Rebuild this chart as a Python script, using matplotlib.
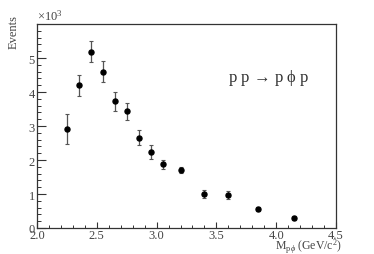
#!/usr/bin/env python3
"""p p -> p phi p : M(p phi) spectrum, ROOT-like style."""
import matplotlib
matplotlib.use("Agg")
import matplotlib.pyplot as plt
from matplotlib.ticker import MultipleLocator, FormatStrFormatter

# data (events in units of 10^3)
mass = [2.25, 2.35, 2.45, 2.55, 2.65, 2.75, 2.85, 2.95, 3.05, 3.20, 3.40, 3.60, 3.85, 4.15]
events = [2.91, 4.20, 5.18, 4.60, 3.73, 3.43, 2.65, 2.24, 1.87, 1.71, 0.99, 0.97, 0.55, 0.29]
errors = [0.43, 0.31, 0.31, 0.31, 0.28, 0.24, 0.22, 0.20, 0.12, 0.08, 0.12, 0.13, 0.06, 0.05]

plt.rcParams["font.family"] = ["Liberation Serif", "DejaVu Serif"]
plt.rcParams["mathtext.fontset"] = "custom"
plt.rcParams["mathtext.rm"] = "Liberation Serif"
plt.rcParams["mathtext.it"] = "Liberation Serif:italic"

fig = plt.figure(figsize=(3.74, 2.55), dpi=100)
ax = fig.add_axes([37 / 374, 26 / 255, 299 / 374, 204 / 255])

ax.errorbar(mass, events, yerr=errors, fmt="o", color="black", ms=3.6,
            ecolor="#555555", elinewidth=0.9, capsize=1.4, capthick=0.8)

ax.set_xlim(2.0, 4.5)
ax.set_ylim(0, 6.0)
ax.xaxis.set_major_locator(MultipleLocator(0.5))
ax.xaxis.set_minor_locator(MultipleLocator(0.1))
ax.xaxis.set_major_formatter(FormatStrFormatter("%.1f"))
ax.set_yticks([0, 1, 2, 3, 4, 5])
ax.yaxis.set_minor_locator(MultipleLocator(0.2))
ax.tick_params(axis="x", which="major", direction="in", length=4.3, width=0.8,
               labelsize=9, pad=0.5, colors="#333333", labelcolor="#444444")
ax.tick_params(axis="x", which="minor", direction="in", length=2.2, width=0.7, colors="#333333")
ax.tick_params(axis="y", which="major", direction="in", length=6.5, width=0.8,
               labelsize=9, pad=1.5, colors="#333333", labelcolor="#444444")
ax.tick_params(axis="y", which="minor", direction="in", length=3.2, width=0.7, colors="#333333")
for s in ax.spines.values():
    s.set_color("#333333")
    s.set_linewidth(0.9)

fig.text(37 / 374, 1 - 24 / 255, r"$\times$10$^{3}$", fontsize=9, color="#444444",
         ha="left", va="bottom")
fig.text(14 / 374, 1 - 32 / 255, "Events", fontsize=9, color="#444444",
         rotation=90, ha="center", va="center")
fig.text(342 / 374, 1 - 249.5 / 255, "M$_{\\mathrm{p}}$$_{\u03d5}$ (GeV/c$^{2}$)", fontsize=8.5,
         color="#444444", ha="right", va="baseline")
fig.text(269 / 374, 1 - 78 / 255, "p p$\\,\\rightarrow\\,$p \u03d5 p",
         fontsize=12, color="#333333", ha="center", va="center")

fig.savefig("out.png", dpi=100)
